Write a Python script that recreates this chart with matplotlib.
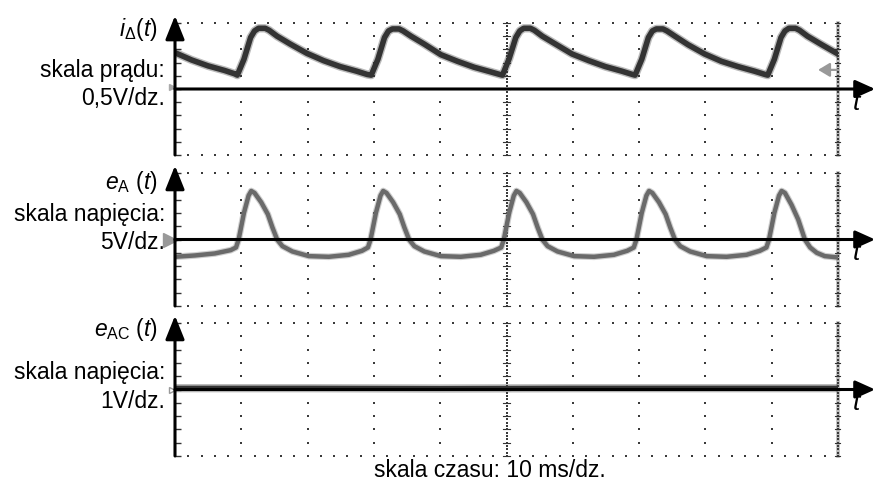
import numpy as np
import matplotlib
matplotlib.use('Agg')
import matplotlib.pyplot as plt

plt.rcParams['font.family'] = ['Liberation Sans', 'DejaVu Sans']
plt.rcParams['mathtext.fontset'] = 'custom'
plt.rcParams['mathtext.rm'] = 'Liberation Sans'
plt.rcParams['mathtext.it'] = 'Liberation Sans:italic'

# czas w ms, wartosci w dzialkach
i_t = [0, 2.5, 5.0, 7.5, 9.0,
       9.4, 10.4, 11.4, 12.0, 12.6, 13.6, 14.2, 15.4, 17.4, 19.9, 22.4, 24.9, 27.4, 29.0,
       29.6, 30.6, 31.6, 32.2, 32.8, 33.8, 34.4, 35.6, 37.6, 40.1, 42.6, 45.1, 47.6, 49.0,
       49.4, 50.4, 51.4, 52.0, 52.6, 53.6, 54.2, 55.4, 57.4, 59.9, 62.4, 64.9, 67.4, 69.0,
       69.4, 70.4, 71.4, 72.0, 72.6, 73.6, 74.2, 75.4, 77.4, 79.9, 82.4, 84.9, 87.4, 89.0,
       89.4, 90.4, 91.4, 92.0, 92.6, 93.6, 94.2, 95.4, 97.4, 100.0]
i_v = [0.55, 0.44, 0.35, 0.28, 0.23,
       0.21, 0.45, 0.78, 0.88, 0.92, 0.92, 0.89, 0.80, 0.68, 0.54, 0.43, 0.34, 0.27, 0.22,
       0.21, 0.45, 0.78, 0.88, 0.91, 0.91, 0.88, 0.80, 0.68, 0.52, 0.42, 0.33, 0.26, 0.22,
       0.21, 0.46, 0.78, 0.88, 0.92, 0.92, 0.89, 0.80, 0.68, 0.53, 0.43, 0.34, 0.27, 0.22,
       0.21, 0.45, 0.78, 0.88, 0.91, 0.91, 0.88, 0.80, 0.67, 0.53, 0.42, 0.34, 0.27, 0.22,
       0.21, 0.45, 0.78, 0.88, 0.92, 0.92, 0.89, 0.80, 0.68, 0.53]

ea_t = [0, 3.0, 6.0, 8.4,
        9.2, 9.6, 10.4, 11.1, 11.5, 12.0, 13.0, 14.0, 14.7, 15.4, 16.2, 17.7, 20.2, 23.2, 26.2, 28.2,
        29.1, 29.5, 30.3, 31.0, 31.4, 31.9, 32.9, 33.9, 34.6, 35.3, 36.1, 37.6, 40.1, 43.1, 46.1, 48.1,
        49.2, 49.6, 50.4, 51.1, 51.5, 52.0, 53.0, 54.0, 54.7, 55.4, 56.2, 57.7, 60.2, 63.2, 66.2, 68.2,
        69.2, 69.6, 70.4, 71.1, 71.5, 72.0, 73.0, 74.0, 74.7, 75.4, 76.2, 77.7, 80.2, 83.2, 86.2, 88.2,
        89.2, 89.6, 90.4, 91.1, 91.5, 92.0, 93.0, 94.0, 95.0, 95.8, 96.8, 98.0, 100.0]
ea_v = [-0.26, -0.24, -0.21, -0.16,
        -0.12, 0.0, 0.40, 0.66, 0.73, 0.70, 0.56, 0.38, 0.18, 0.0, -0.10, -0.18, -0.25, -0.26, -0.23, -0.17,
        -0.12, 0.0, 0.40, 0.66, 0.73, 0.70, 0.56, 0.38, 0.18, 0.0, -0.10, -0.18, -0.25, -0.26, -0.23, -0.17,
        -0.12, 0.0, 0.40, 0.66, 0.73, 0.70, 0.56, 0.38, 0.18, 0.0, -0.10, -0.18, -0.25, -0.26, -0.23, -0.17,
        -0.12, 0.0, 0.40, 0.66, 0.73, 0.70, 0.56, 0.38, 0.18, 0.0, -0.10, -0.18, -0.25, -0.26, -0.23, -0.17,
        -0.12, 0.0, 0.40, 0.66, 0.73, 0.70, 0.52, 0.30, 0.0, -0.12, -0.20, -0.25, -0.27]

eac_t = [0, 20, 40, 60, 80, 100]
eac_v = [0.02, 0.02, 0.015, 0.02, 0.02, 0.02]

W, H = 875, 483
fig = plt.figure(figsize=(W / 100, H / 100), dpi=100)

def fx(px):
    return px / W

def fy(py):
    return 1 - py / H

# pozycje paneli w pikselach (lewo, gora, dol)
left, right = 175, 838
panels = [(23, 155), (173, 306), (323, 456)]
axes = []
for top, bot in panels:
    ax = fig.add_axes([fx(left), fy(bot), fx(right - left), (bot - top) / H])
    ax.set_xlim(0, 100)
    ax.set_ylim(-1, 1)
    for s in ax.spines.values():
        s.set_visible(False)
    ax.set_yticks(np.arange(-1, 1.01, 0.2))
    ax.set_xticks([])
    ax.tick_params(axis='y', direction='in', length=4, width=1, color='#333333',
                   labelleft=False)
    axes.append(ax)

def draw_grid(ax):
    dot = dict(marker='s', s=1.5, color='#3a3a3a', linewidths=0, clip_on=False, zorder=1)
    xs = np.arange(0, 100.01, 2)
    ax.scatter(xs, np.ones_like(xs), **dot)
    ax.scatter(xs, -np.ones_like(xs), **dot)
    ys = np.arange(-1, 1.01, 0.2)
    for xv in range(10, 100, 10):
        if xv == 50:
            continue
        ax.scatter(np.full_like(ys, xv), ys, **dot)
    # srodkowa linia pionowa - gestsza
    yd = np.arange(-1, 1.01, 0.05)
    ax.scatter(np.full_like(yd, 50), yd, **dot)
    for yv in ys:
        ax.plot([49.4, 50.6], [yv, yv], color='#333333', lw=0.8, clip_on=False, zorder=1)
    # prawa krawedz ekranu
    ax.plot([100, 100], [-1, 1], color='#b8b8b8', lw=2.6, clip_on=False, zorder=1)
    ax.scatter(np.full_like(yd, 100), yd, **dot)
    for yv in ys:
        ax.plot([99.5, 100.3], [yv, yv], color='#333333', lw=0.8, clip_on=False, zorder=1)

def draw_axes(ax):
    ax.annotate('', xy=(0, 1.055), xytext=(0, 0), xycoords='axes fraction',
                arrowprops=dict(arrowstyle='-|>,head_length=0.72,head_width=0.29',
                                lw=2.2, color='k', shrinkA=0, shrinkB=0, mutation_scale=20),
                annotation_clip=False, zorder=5)
    ax.annotate('', xy=(1.056, 0.5), xytext=(0, 0.5), xycoords='axes fraction',
                arrowprops=dict(arrowstyle='-|>,head_length=0.6,head_width=0.27',
                                lw=2.2, color='k', shrinkA=0, shrinkB=0, mutation_scale=20),
                annotation_clip=False, zorder=5)

for ax in axes:
    draw_grid(ax)
    draw_axes(ax)

# przebiegi
axes[0].plot(i_t, i_v, color='#3c3c3c', lw=6.0, alpha=0.35, zorder=3)
axes[0].plot(i_t, i_v, color='#333333', lw=4.0, zorder=3)
axes[1].plot(ea_t, ea_v, color='#777777', lw=4.8, alpha=0.35, zorder=3)
axes[1].plot(ea_t, ea_v, color='#6a6a6a', lw=3.2, zorder=3)
axes[2].plot(eac_t, eac_v, color='#3c3c3c', lw=6.0, alpha=0.35, zorder=3)
axes[2].plot(eac_t, eac_v, color='#333333', lw=3.6, zorder=3)

# znaczniki oscyloskopu
axes[0].annotate('', xy=(97.0, 0.29), xytext=(100, 0.29),
                 arrowprops=dict(arrowstyle='-|>,head_length=0.5,head_width=0.3',
                                 lw=1.6, color='#999999', shrinkA=0, shrinkB=0,
                                 mutation_scale=14), zorder=4)
axes[0].plot([-0.5], [0.03], marker='>', ms=4, color='#aaaaaa', clip_on=False, zorder=4)
axes[1].plot([-0.8], [0.0], marker='>', ms=10, color='#999999', clip_on=False, zorder=4)
axes[2].plot([-0.4], [0.0], marker='>', ms=4, mfc='none', mec='#999999', clip_on=False, zorder=4)

fs = 16.5
labels = [
    (r'$i_{\Delta}(t)$', 'skala prądu:', '0,5V/dz.', (36, 77, 105)),
    (r'$e_{\mathrm{A}}\ (t)$', 'skala napięcia:', '5V/dz.', (189, 221, 249)),
    (r'$e_{\mathrm{AC}}\ (t)$', 'skala napięcia:', '1V/dz.', (336, 379, 408)),
]
for name, scale, unit, (y1, y2, y3) in labels:
    fig.text(fx(158), fy(y1), name, ha='right', va='baseline', fontsize=fs)
    fig.text(fx(165), fy(y2), scale, ha='right', va='baseline', fontsize=fs)
    fig.text(fx(165), fy(y3), unit, ha='right', va='baseline', fontsize=fs)

for top, bot in panels:
    zero = (top + bot) / 2
    fig.text(fx(856), fy(zero + 21), 't', ha='center', va='baseline', fontsize=19,
             style='italic')

fig.text(fx(490), fy(477), 'skala czasu: 10 ms/dz.', ha='center', va='baseline', fontsize=fs)

fig.savefig('out.png', dpi=100)
